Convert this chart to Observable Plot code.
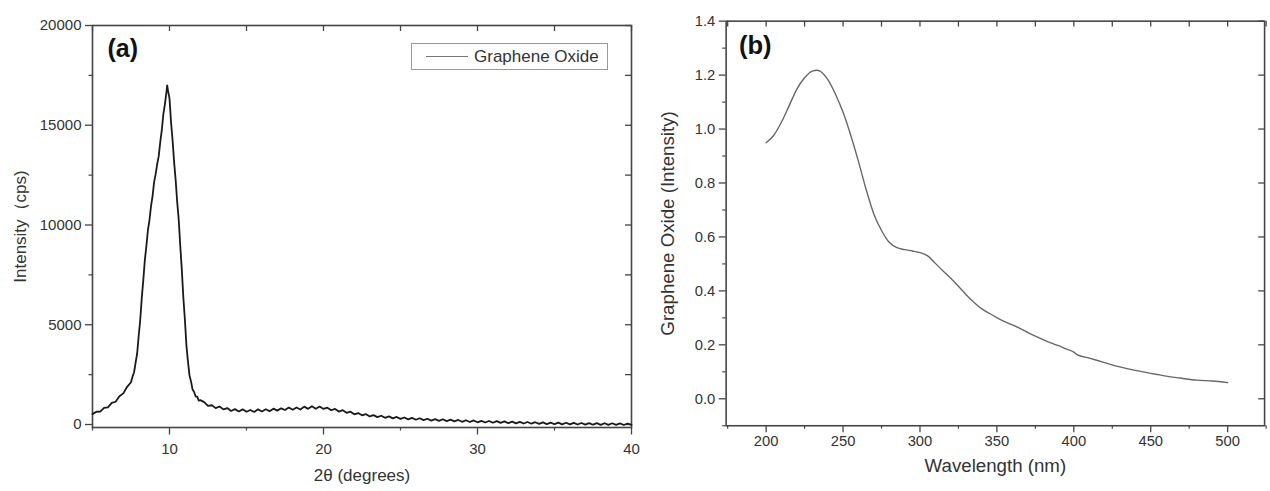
<!DOCTYPE html>
<html><head><meta charset="utf-8">
<script src="https://cdn.jsdelivr.net/npm/d3@7"></script>
<script src="https://cdn.jsdelivr.net/npm/@observablehq/plot@0.6"></script>
<style>
html,body{margin:0;padding:0;background:#fff;overflow:hidden;width:1270px;height:491px;}
#wrap{position:relative;width:1270px;height:491px;overflow:hidden;}
#a,#b{position:absolute;top:0;}
#a{left:0;} #b{left:640px;}
.legend{position:absolute;left:411px;top:43px;width:197px;height:27px;border:1px solid #999;box-sizing:border-box;font:17px "Liberation Sans",Arial,sans-serif;color:#333;display:flex;align-items:center;}
.legend .sw{display:inline-block;width:42px;height:0;border-top:1.3px solid #777;margin-left:14px;margin-right:6px;}
</style></head>
<body>
<div id="wrap"><div id="a"></div><div id="b"></div>
<div class="legend"><span class="sw"></span><span>Graphene Oxide</span></div>
</div>
<script>
// ---- Panel (a): XRD ----
const xrdTheta = [5,5.25,5.5,5.75,6,6.25,6.5,6.75,7,7.25,7.5,
7.6,7.7,7.8,7.9,8,8.1,8.2,8.3,8.4,8.5,8.6,8.7,8.8,8.9,9,9.1,9.2,9.3,9.4,9.5,9.6,9.7,9.8,9.85,9.9,10,10.1,10.2,10.3,10.4,10.5,10.6,10.7,10.8,10.9,11,11.1,11.2,11.3,11.4,11.5,11.6,11.7,11.8,11.9,12,
12.25,12.5,12.75,13,13.25,13.5,13.75,14,14.25,14.5,14.75,15,15.25,15.5,15.75,16,16.25,16.5,16.75,17,17.25,17.5,17.75,18,18.25,18.5,18.75,19,19.25,19.5,19.75,20,20.25,20.5,20.75,21,21.25,21.5,21.75,22,22.25,22.5,22.75,23,23.25,23.5,23.75,24,24.25,24.5,24.75,25,25.25,25.5,25.75,26,26.25,26.5,26.75,27,27.25,27.5,27.75,28,28.25,28.5,28.75,29,29.25,29.5,29.75,30,30.25,30.5,30.75,31,31.25,31.5,31.75,32,32.25,32.5,32.75,33,33.25,33.5,33.75,34,34.25,34.5,34.75,35,35.25,35.5,35.75,36,36.25,36.5,36.75,37,37.25,37.5,37.75,38,38.25,38.5,38.75,39,39.25,39.5,39.75,40];
const xrdIntensity = [520,640,650,830,860,1080,1140,1420,1560,1890,2120,
2400,2620,3100,3560,4450,5250,6350,7250,8250,8950,9750,10250,10950,11450,12150,12550,13050,13450,14150,14750,15550,16050,16650,17000,16750,16350,15150,14250,13150,12250,11150,10250,8950,7750,6350,5250,3950,3150,2450,2150,1750,1630,1400,1400,1200,1220,
1120,930,965,820,905,760,825,680,770,655,
760,640,730,630,760,655,765,670,795,695,
810,725,850,740,855,750,895,785,915,790,
900,780,845,715,780,650,720,585,645,510,
575,460,525,405,470,370,440,335,405,310,
380,280,350,255,330,240,315,220,290,195,
272,185,263,170,242,155,228,135,212,125,
203,110,185,100,175,90,170,80,155,65,
145,60,135,50,125,40,115,30,106,22,
98,15,92,10,87,5,82,0,77,-5,
72,-10,67,-15,63,-18,61,-20,57,-25,
52,-20];
const aXMajor = [10,20,30,40];
const aXMinor = [5,15,25,35];
const aYMajor = [0,5000,10000,15000,20000];
const aYMinor = [2500,7500,12500,17500];
const aXTitle = "2θ (degrees)";
const aYTitle = "Intensity（cps)";
const aTag = "(a)";

// ---- Panel (b): UV-Vis ----
const uvWavelength = [200,205,210,215,220,225,230,233,235,240,245,250,255,260,265,270,275,280,285,290,295,300,305,310,315,320,325,330,335,340,345,350,355,360,365,370,375,380,385,390,395,400,402,410,420,430,440,450,460,470,480,490,500];
const uvIntensity = [0.949,0.977,1.026,1.087,1.148,1.19,1.215,1.218,1.215,1.184,1.13,1.062,0.977,0.88,0.776,0.685,0.624,0.58,0.56,0.553,0.548,0.542,0.53,0.502,0.474,0.447,0.417,0.386,0.358,0.334,0.317,0.301,0.286,0.274,0.261,0.246,0.232,0.219,0.207,0.197,0.185,0.173,0.164,0.151,0.134,0.118,0.105,0.094,0.084,0.076,0.069,0.066,0.06];
const bXMajor = [200,250,300,350,400,450,500];
const bXMinor = [175,225,275,325,375,425,475,525];
const bYMajor = [0,0.2,0.4,0.6,0.8,1.0,1.2,1.4];
const bYMinor = [-0.1,0.1,0.3,0.5,0.7,0.9,1.1,1.3];
const bXTitle = "Wavelength (nm)";
const bYTitle = "Graphene Oxide (Intensity)";
const bTag = "(b)";

const FONT = '"Liberation Sans", Arial, Helvetica, sans-serif';
const AX = "#444";

const xrd = xrdTheta.map((t, i) => ({t, v: xrdIntensity[i]}));
const uv = uvWavelength.map((w, i) => ({w, v: uvIntensity[i]}));

// Panel a frame: x 92..631, y 25..427
const aW = 640, aH = 491, aML = 92, aMR = 9, aMT = 25, aMB = 64;
const aFW = aW - aML - aMR, aFH = aH - aMT - aMB;
const plotA = Plot.plot({
  width: aW, height: aH, marginLeft: aML, marginRight: aMR, marginTop: aMT, marginBottom: aMB,
  style: {fontFamily: FONT, color: "#333", background: "transparent", overflow: "visible"},
  x: {domain: [5, 40]},
  y: {domain: [-150, 20000]},
  marks: [
    Plot.axisY({ticks: aYMajor, tickSize: 7, tickPadding: 4, fontSize: 15, label: null, stroke: AX, strokeWidth: 1.3, tickFormat: d3.format("d")}),
    Plot.axisY({ticks: aYMinor, tickSize: 3.5, tickFormat: () => "", label: null, stroke: AX, strokeWidth: 1.2}),
    Plot.axisX({ticks: aXMajor, tickSize: 7.5, tickPadding: 8, fontSize: 15, label: null, stroke: AX, strokeWidth: 1.3, tickFormat: d3.format("d")}),
    Plot.axisX({ticks: aXMinor, tickSize: 3.5, tickFormat: () => "", label: null, stroke: AX, strokeWidth: 1.2}),
    Plot.tickX(aXMajor.concat(aXMinor), {x: d => d, insetBottom: aFH - 6, stroke: AX, strokeWidth: 1.3}),
    Plot.tickY(aYMajor.concat(aYMinor), {y: d => d, insetLeft: aFW - 6, stroke: AX, strokeWidth: 1.3}),
    Plot.frame({stroke: AX, strokeWidth: 1.6}),
    Plot.line(xrd, {x: "t", y: "v", stroke: "#1a1a1a", strokeWidth: 1.8}),
    Plot.text([aTag], {text: d => d, frameAnchor: "top-left", dx: 15, dy: 14, fontSize: 25, fontWeight: "bold", fill: "#111"}),
    Plot.text([aXTitle], {text: d => d, frameAnchor: "bottom", dy: 53, fontSize: 17, fill: "#333"}),
    Plot.text([aYTitle], {text: d => d, frameAnchor: "left", textAnchor: "middle", rotate: -90, dx: -72, fontSize: 17, fill: "#333"})
  ]
});
document.getElementById("a").append(plotA);

// Panel b frame: x 727..1274 (page), y 21..432
const bW = 640, bH = 491, bML = 87, bMR = 6, bMT = 21, bMB = 59;
const bFW = bW - bML - bMR, bFH = bH - bMT - bMB;
const plotB = Plot.plot({
  width: bW, height: bH, marginLeft: bML, marginRight: bMR, marginTop: bMT, marginBottom: bMB,
  style: {fontFamily: FONT, color: "#333", background: "transparent", overflow: "visible"},
  x: {domain: [174, 524]},
  y: {domain: [-0.1, 1.4]},
  marks: [
    Plot.axisY({ticks: bYMajor, tickSize: 7, tickPadding: 4, fontSize: 15, label: null, stroke: AX, strokeWidth: 1.3, tickFormat: d3.format(".1f")}),
    Plot.axisY({ticks: bYMinor, tickSize: 3.5, tickFormat: () => "", label: null, stroke: AX, strokeWidth: 1.2}),
    Plot.axisX({ticks: bXMajor, tickSize: 7, tickPadding: 3, fontSize: 15, label: null, stroke: AX, strokeWidth: 1.3, tickFormat: d3.format("d")}),
    Plot.axisX({ticks: bXMinor, tickSize: 3.5, tickFormat: () => "", label: null, stroke: AX, strokeWidth: 1.2}),
    Plot.tickX(bXMajor.concat(bXMinor), {x: d => d, insetBottom: bFH - 6, stroke: AX, strokeWidth: 1.3}),
    Plot.tickY(bYMajor, {y: d => d, insetLeft: bFW - 6, stroke: AX, strokeWidth: 1.3}),
    Plot.frame({stroke: AX, strokeWidth: 1.6}),
    Plot.line(uv, {x: "w", y: "v", stroke: "#666", strokeWidth: 1.4, curve: "monotone-x"}),
    Plot.text([bTag], {text: d => d, frameAnchor: "top-left", dx: 13, dy: 15, fontSize: 26, fontWeight: "bold", fill: "#111"}),
    Plot.text([bXTitle], {text: d => d, frameAnchor: "bottom", dy: 47, fontSize: 19, fill: "#333"}),
    Plot.text([bYTitle], {text: d => d, frameAnchor: "left", textAnchor: "middle", rotate: -90, dx: -59, fontSize: 19, fill: "#333"})
  ]
});
document.getElementById("b").append(plotB);
</script>
</body></html>
